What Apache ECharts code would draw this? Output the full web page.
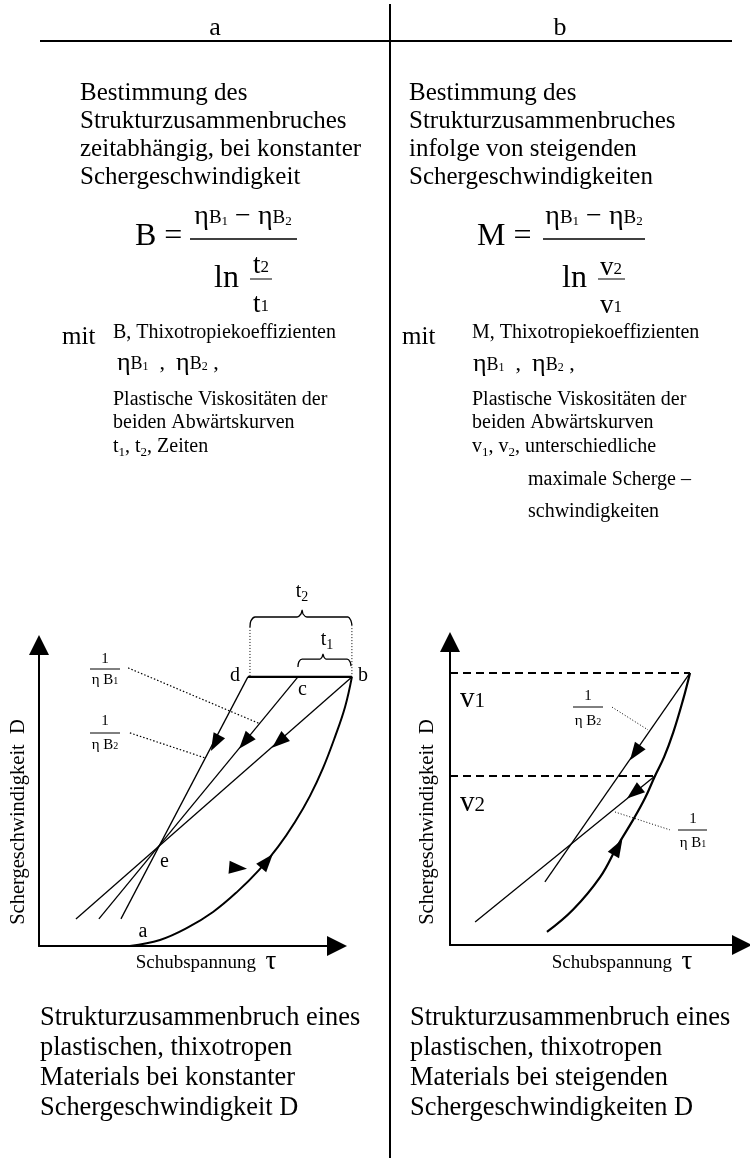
<!DOCTYPE html>
<html><head><meta charset="utf-8">
<script src="https://cdn.jsdelivr.net/npm/echarts@6/dist/echarts.min.js"></script>
<style>html,body{margin:0;padding:0;background:#fff}#c{width:750px;height:1160px}</style>
</head><body><div id="c"></div>
<script>
// ===== Diagram a (constant shear rate), units 0..100 on the drawn axes =====
const aLineD = [[70.1, 89.4], [27.5, 9.0]];
const aLineC = [[86.9, 89.4], [20.1, 9.0]];
const aLineB = [[105.0, 89.4], [12.4, 9.0]];
const aTopLine = [[70.1, 89.4], [105.0, 89.4]];
const aUpCurve = [[30.5, 0], [40.6, 2.0], [49.7, 6.0], [58.4, 11.3], [66.4, 17.9], [73.8, 25.2],
  [80.2, 32.9], [85.9, 41.2], [90.9, 49.8], [95.3, 59.1], [99.3, 69.4], [102.7, 79.4], [105.0, 89.4]];
const aBraceT2 = [[70.8, 106.0], [71.1, 108.0], [72.5, 109.3], [86.6, 109.3], [87.9, 110.3], [88.3, 111.6],
  [88.6, 110.3], [89.9, 109.3], [103.7, 109.3], [104.7, 108.0], [105.0, 106.6]];
const aBraceT1 = [[86.9, 92.7], [87.2, 94.4], [88.3, 95.3], [94.3, 95.3], [95.0, 96.0], [95.3, 97.0],
  [95.6, 96.0], [96.3, 95.3], [103.4, 95.3], [104.4, 94.4], [104.7, 93.0]];
const aGuideLeft = [[70.8, 106.0], [70.8, 89.4]];
const aGuideRight = [[105.0, 106.6], [105.0, 89.4]];
const aLeaderB1 = [[29.9, 92.4], [74.2, 73.8]];
const aLeaderB2 = [[30.5, 70.8], [55.7, 62.5]];
const aArrowPts = [[59.1, 67.4], [69.1, 67.8], [80.5, 67.8], [76.5, 28.2], [66.8, 25.9]];
const aArrowRot = [152, 140, 131, -40, -95];

// ===== Diagram b (increasing shear rates), units 0..100 =====
const bLineV1 = [[82.2, 89.8], [32.5, 20.8]];
const bLineV2 = [[70.2, 55.8], [8.6, 7.6]];
const bDashV1 = [[0, 89.8], [82.2, 89.8]];
const bDashV2 = [[0, 55.8], [70.2, 55.8]];
const bUpCurve = [[33.2, 4.3], [42.1, 11.6], [51.4, 22.4], [57.5, 33.0], [62.7, 41.3], [66.8, 48.5],
  [70.2, 55.8], [73.3, 62.0], [76.4, 70.0], [79.8, 80.9], [82.2, 89.8]];
const bLeaderB2 = [[55.5, 78.5], [67.8, 71.0]];
const bLeaderB1 = [[56.5, 43.9], [75.3, 38.0]];
const bArrowPts = [[63.4, 63.4], [63.0, 50.2], [57.5, 32.3]];
const bArrowRot = [145, 129, -30];

// ===== Texts =====
const headA = 'a', headB = 'b';
const introA = ['Bestimmung des', 'Strukturzusammenbruches', 'zeitabhängig, bei konstanter', 'Schergeschwindigkeit'];
const introB = ['Bestimmung des', 'Strukturzusammenbruches', 'infolge von steigenden', 'Schergeschwindigkeiten'];
const captionA = ['Strukturzusammenbruch eines', 'plastischen, thixotropen', 'Materials bei konstanter', 'Schergeschwindigkeit D'];
const captionB = ['Strukturzusammenbruch eines', 'plastischen, thixotropen', 'Materials bei steigenden', 'Schergeschwindigkeiten D'];
const yName = 'Schergeschwindigkeit  D';
const xName = 'Schubspannung';

const SERIF = '"Liberation Serif", "Times New Roman", serif';
const K = '#000';

function txt(x, y, text, size, align, extra) {
  return Object.assign({
    type: 'text', x: x, y: y, silent: true,
    style: { text: text, fontSize: size, fontFamily: SERIF, fill: K,
      textAlign: align || 'left', textVerticalAlign: 'middle' }
  }, extra || {});
}
function rtxt(x, y, text, richDef, align) {
  const r = {};
  Object.keys(richDef).forEach(function (k) {
    r[k] = Object.assign({ fontFamily: SERIF, fill: K }, richDef[k]);
  });
  return {
    type: 'text', x: x, y: y, silent: true,
    style: { text: text, rich: r, fontFamily: SERIF, fill: K,
      textAlign: align || 'left', textVerticalAlign: 'middle' }
  };
}
function seg(x1, y1, x2, y2, w) {
  return { type: 'line', silent: true, shape: { x1: x1, y1: y1, x2: x2, y2: y2 },
    style: { stroke: K, lineWidth: w || 1 } };
}

const numRich = {
  e: { fontSize: 28, verticalAlign: 'bottom', lineHeight: 34 },
  b: { fontSize: 19, verticalAlign: 'bottom', lineHeight: 34, padding: [0, 0, 3, 0] },
  s: { fontSize: 13, verticalAlign: 'bottom', lineHeight: 34, padding: [0, 0, 3, 0] },
  m: { fontSize: 28, verticalAlign: 'bottom', lineHeight: 34 }
};
const etaRich = {
  e: { fontSize: 26, verticalAlign: 'bottom', lineHeight: 30 },
  b: { fontSize: 18, verticalAlign: 'bottom', lineHeight: 30, padding: [0, 0, 3, 0] },
  s: { fontSize: 12, verticalAlign: 'bottom', lineHeight: 30, padding: [0, 0, 3, 0] },
  n: { fontSize: 22, verticalAlign: 'bottom', lineHeight: 30, padding: [0, 0, 2, 0] }
};
const subRich = {
  n: { fontSize: 20, verticalAlign: 'middle', lineHeight: 24 },
  s: { fontSize: 13, verticalAlign: 'bottom', lineHeight: 24 }
};
const fracRich = {
  t: { fontSize: 27, verticalAlign: 'bottom', lineHeight: 30 },
  s: { fontSize: 17, verticalAlign: 'bottom', lineHeight: 30, padding: [0, 0, 3, 0] }
};
const smallRich = {
  e: { fontSize: 15, verticalAlign: 'bottom', lineHeight: 18 },
  b: { fontSize: 15, verticalAlign: 'bottom', lineHeight: 18 },
  s: { fontSize: 10, verticalAlign: 'bottom', lineHeight: 18, padding: [0, 0, 2, 0] }
};
const braceRich = {
  t: { fontSize: 20, verticalAlign: 'middle', lineHeight: 24 },
  s: { fontSize: 14, verticalAlign: 'bottom', lineHeight: 24 }
};
const vRich = {
  v: { fontSize: 29, verticalAlign: 'bottom', lineHeight: 32 },
  n: { fontSize: 21, verticalAlign: 'bottom', lineHeight: 32, padding: [0, 0, 2, 0] }
};
const axRich = {
  n: { fontSize: 19, verticalAlign: 'bottom', lineHeight: 26, padding: [0, 0, 2, 0] },
  t: { fontSize: 27, verticalAlign: 'bottom', lineHeight: 26 }
};

const g = [];
// header
g.push(txt(215, 28, headA, 26, 'center'));
g.push(txt(560, 28, headB, 26, 'center'));
g.push(seg(40, 41, 732, 41, 2));
g.push(seg(390, 4, 390, 1158, 2));
// intro paragraphs
introA.forEach(function (s, i) { g.push(txt(80, 93 + i * 28, s, 25, 'left')); });
introB.forEach(function (s, i) { g.push(txt(409, 93 + i * 28, s, 25, 'left')); });
// formula a
g.push(txt(135, 237, 'B =', 32, 'left'));
g.push(rtxt(243, 214, '{e|η}{b|B}{s|1}{m| − }{e|η}{b|B}{s|2}', numRich, 'center'));
g.push(seg(190, 239, 297, 239, 1.5));
g.push(txt(214, 279, 'ln', 32, 'left'));
g.push(rtxt(261, 264, '{t|t}{s|2}', fracRich, 'center'));
g.push(seg(250, 279, 272, 279, 1));
g.push(rtxt(261, 303, '{t|t}{s|1}', fracRich, 'center'));
// formula b
g.push(txt(477, 237, 'M =', 32, 'left'));
g.push(rtxt(594, 214, '{e|η}{b|B}{s|1}{m| − }{e|η}{b|B}{s|2}', numRich, 'center'));
g.push(seg(543, 239, 645, 239, 1.5));
g.push(txt(562, 279, 'ln', 32, 'left'));
g.push(rtxt(611, 266, '{t|v}{s|2}', fracRich, 'center'));
g.push(seg(598, 279, 625, 279, 1));
g.push(rtxt(611, 304, '{t|v}{s|1}', fracRich, 'center'));
// legend texts a
g.push(txt(62, 337, 'mit', 25, 'left'));
g.push(txt(113, 333, 'B, Thixotropiekoeffizienten', 20, 'left'));
g.push(rtxt(117, 361, '{e|η}{b|B}{s|1}{n|  ,  }{e|η}{b|B}{s|2}{n| ,}', etaRich, 'left'));
g.push(txt(113, 400, 'Plastische Viskositäten der', 20, 'left'));
g.push(txt(113, 423, 'beiden Abwärtskurven', 20, 'left'));
g.push(rtxt(113, 447, '{n|t}{s|1}{n|, t}{s|2}{n|, Zeiten}', subRich, 'left'));
// legend texts b
g.push(txt(402, 337, 'mit', 25, 'left'));
g.push(txt(472, 333, 'M, Thixotropiekoeffizienten', 20, 'left'));
g.push(rtxt(473, 362, '{e|η}{b|B}{s|1}{n|  ,  }{e|η}{b|B}{s|2}{n| ,}', etaRich, 'left'));
g.push(txt(472, 400, 'Plastische Viskositäten der', 20, 'left'));
g.push(txt(472, 423, 'beiden Abwärtskurven', 20, 'left'));
g.push(rtxt(472, 447, '{n|v}{s|1}{n|, v}{s|2}{n|, unterschiedliche}', subRich, 'left'));
g.push(txt(528, 480, 'maximale Scherge –', 20, 'left'));
g.push(txt(528, 512, 'schwindigkeiten', 20, 'left'));
// diagram a labels
g.push(rtxt(302, 592, '{t|t}{s|2}', braceRich, 'center'));
g.push(rtxt(327, 640, '{t|t}{s|1}', braceRich, 'center'));
g.push(txt(240, 676, 'd', 20, 'right'));
g.push(txt(358, 676, 'b', 20, 'left'));
g.push(txt(298, 690, 'c', 20, 'left'));
g.push(txt(160, 862, 'e', 20, 'left'));
g.push(txt(143, 932, 'a', 20, 'center'));
g.push(txt(105, 659, '1', 15, 'center'));
g.push(seg(90, 669, 120, 669, 1));
g.push(rtxt(105, 679, '{e|η }{b|B}{s|1}', smallRich, 'center'));
g.push(txt(105, 721, '1', 15, 'center'));
g.push(seg(90, 733, 120, 733, 1));
g.push(rtxt(105, 744, '{e|η }{b|B}{s|2}', smallRich, 'center'));
g.push(txt(19, 822, yName, 20.5, 'center', { rotation: Math.PI / 2 }));
g.push(rtxt(206, 962, '{n|' + xName + '  }{t|τ}', axRich, 'center'));
// diagram b labels
g.push(rtxt(460, 698, '{v|v}{n|1}', vRich, 'left'));
g.push(rtxt(460, 802, '{v|v}{n|2}', vRich, 'left'));
g.push(txt(588, 696, '1', 15, 'center'));
g.push(seg(573, 707, 603, 707, 1));
g.push(rtxt(588, 720, '{e|η }{b|B}{s|2}', smallRich, 'center'));
g.push(txt(693, 819, '1', 15, 'center'));
g.push(seg(678, 830, 707, 830, 1));
g.push(rtxt(693, 842, '{e|η }{b|B}{s|1}', smallRich, 'center'));
g.push(txt(428, 822, yName, 20.5, 'center', { rotation: Math.PI / 2 }));
g.push(rtxt(622, 962, '{n|' + xName + '  }{t|τ}', axRich, 'center'));
// captions
captionA.forEach(function (s, i) { g.push(txt(40, 1018 + i * 30, s, 26.4, 'left')); });
captionB.forEach(function (s, i) { g.push(txt(410, 1018 + i * 30, s, 26.4, 'left')); });

function axis(idx, max, visible) {
  return {
    gridIndex: idx, type: 'value', min: 0, max: max, show: visible,
    axisLine: { show: true, onZero: false, symbol: ['none', 'triangle'], symbolSize: [20, 20],
      lineStyle: { color: K, width: 2 } },
    axisTick: { show: false }, axisLabel: { show: false }, splitLine: { show: false }
  };
}
function ln(data, gi, w, type, smooth) {
  return { type: 'line', xAxisIndex: gi, yAxisIndex: gi, data: data, symbol: 'none', clip: false,
    smooth: smooth || false, silent: true,
    lineStyle: { color: K, width: w, type: type || 'solid', opacity: 1 }, z: 3 };
}
function arrows(pts, rots, gi) {
  return { type: 'scatter', xAxisIndex: gi, yAxisIndex: gi, clip: false, silent: true,
    symbol: 'triangle', symbolSize: [13, 18], itemStyle: { color: K, opacity: 1 }, z: 4,
    data: pts.map(function (p, i) { return { value: p, symbolRotate: rots[i] }; }) };
}

// Grid 0: data grid for diagram a (same scale as grid 2, extended to 0..120 so nothing is clipped)
// Grid 1: diagram b; Grid 2: visible axes of diagram a
const option = {
  animation: false,
  backgroundColor: '#fff',
  grid: [
    { left: 39, top: 946 - 361.2, width: 357.6, height: 361.2 },
    { left: 450, top: 642, width: 292, height: 303 },
    { left: 39, top: 645, width: 298, height: 301 }
  ],
  xAxis: [axis(0, 120, false), axis(1, 100, true), axis(2, 100, true)],
  yAxis: [axis(0, 120, false), axis(1, 100, true), axis(2, 100, true)],
  series: [
    ln(aLineD, 0, 1.3), ln(aLineC, 0, 1.3), ln(aLineB, 0, 1.3),
    ln(aTopLine, 0, 2.2),
    ln(aUpCurve, 0, 2, 'solid', 0.4),
    ln(aBraceT2, 0, 1.3, 'solid', 0.3), ln(aBraceT1, 0, 1.3, 'solid', 0.3),
    ln(aGuideLeft, 0, 1, [1, 2]), ln(aGuideRight, 0, 1, [1, 2]),
    ln(aLeaderB1, 0, 1.2, [1.5, 2]), ln(aLeaderB2, 0, 1.2, [1.5, 2]),
    arrows(aArrowPts, aArrowRot, 0),
    ln(bLineV1, 1, 1.3), ln(bLineV2, 1, 1.3),
    ln(bDashV1, 1, 2, [8, 5]), ln(bDashV2, 1, 2, [8, 5]),
    ln(bUpCurve, 1, 2.2, 'solid', 0.4),
    ln(bLeaderB2, 1, 1, [1, 2]), ln(bLeaderB1, 1, 1, [1, 2]),
    arrows(bArrowPts, bArrowRot, 1)
  ],
  graphic: { elements: g }
};
const chart = echarts.init(document.getElementById('c'), null, { renderer: 'canvas' });
chart.setOption(option);
</script></body></html>
